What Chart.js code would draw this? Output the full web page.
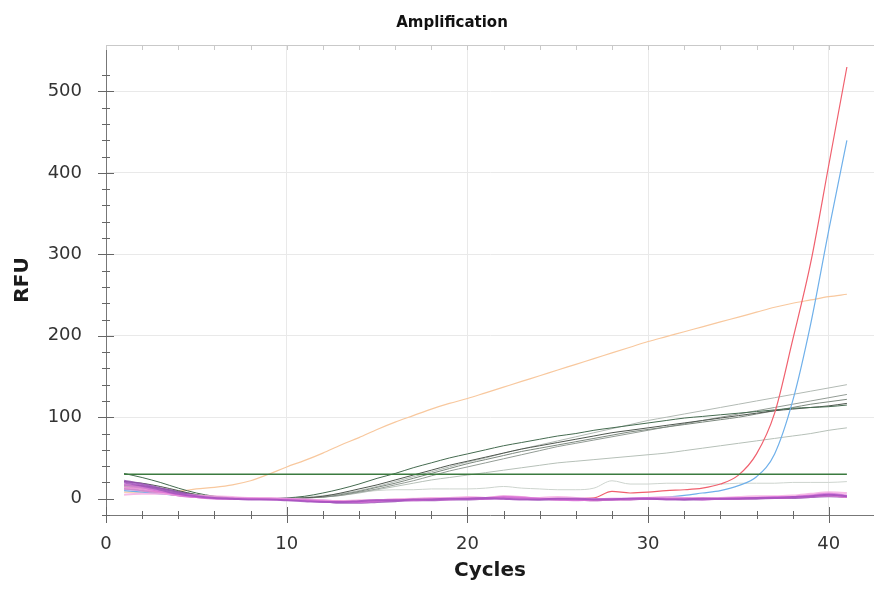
<!DOCTYPE html>
<html>
<head>
<meta charset="utf-8">
<title>Amplification</title>
<script src="https://cdn.jsdelivr.net/npm/chart.js@4.4.0/dist/chart.umd.min.js"></script>
<style>
  html, body { margin: 0; padding: 0; background: #fff; }
</style>
</head>
<body>
<canvas id="chart" width="874" height="590"></canvas>
<script>
// cycle numbers (x axis)
const cycles = [1, 2, 3, 4, 5, 6, 7, 8, 9, 10, 11, 12, 13, 14, 15, 16, 17, 18, 19, 20,
  21, 22, 23, 24, 25, 26, 27, 28, 29, 30, 31, 32, 33, 34, 35, 36, 37, 38, 39, 40, 41];

// RFU readings per well
const wellRed = [12, 10, 7, 4, 2, 1, 0, 0, -1, -1, -2, -3, -3, -3, -2, -1, -1, 0, 0, 0,
  1, 1, 0, 0, 0, 0, 1, 9, 7, 8, 10, 11, 13, 18, 29, 55, 105, 195, 290, 410, 530];
const wellBlue = [10, 8, 6, 4, 2, 1, 0, 0, -1, -1, -2, -3, -3, -3, -2, -2, -1, -1, 0, 0,
  0, 0, -1, -1, 0, 0, 0, 0, 0, 1, 2, 4, 7, 10, 16, 27, 55, 120, 215, 330, 440];
const wellOrange = [8, 8, 8, 9, 12, 14, 17, 22, 30, 39, 47, 56, 66, 75, 85, 94, 102, 110, 117, 123,
  130, 137, 144, 151, 158, 165, 172, 179, 186, 193, 199, 205, 211, 217, 223, 229, 235, 240, 244, 248, 251];

const grey1 = [31, 26, 20, 13, 7, 3, 1, 0, 0, 1, 3, 7, 12, 18, 25, 31, 38, 44, 50, 55,
  60, 65, 69, 73, 77, 80, 84, 87, 90, 93, 96, 99, 101, 103, 105, 107, 109, 111, 112, 113, 115];
const grey2 = [21, 19, 15, 10, 5, 2, 0, -1, -1, 0, 1, 3, 7, 12, 17, 23, 29, 35, 41, 46,
  51, 56, 61, 65, 69, 73, 77, 81, 84, 87, 90, 93, 96, 99, 102, 105, 108, 110, 112, 114, 117];
const grey3 = [17, 16, 13, 9, 5, 2, 1, 0, 0, 0, 1, 2, 5, 9, 14, 19, 25, 31, 37, 43,
  48, 53, 58, 62, 66, 70, 74, 78, 82, 85, 88, 91, 94, 97, 100, 104, 108, 112, 116, 119, 122];
const grey4 = [15, 14, 11, 7, 4, 2, 1, 0, 0, 0, 1, 3, 6, 10, 15, 21, 27, 33, 39, 45,
  50, 56, 61, 66, 71, 76, 81, 86, 91, 96, 100, 104, 108, 112, 116, 120, 124, 128, 132, 136, 140];
const grey5 = [16, 15, 12, 8, 4, 2, 1, 0, 0, 0, 1, 2, 4, 8, 12, 17, 22, 28, 34, 39,
  44, 49, 54, 59, 64, 68, 72, 76, 80, 84, 88, 92, 96, 100, 104, 108, 112, 116, 120, 124, 128];
const grey6 = [15, 13, 10, 6, 3, 1, 0, 0, 0, 0, 1, 2, 4, 7, 11, 15, 19, 23, 26, 29,
  32, 35, 38, 41, 44, 46, 48, 50, 52, 54, 56, 59, 62, 65, 68, 71, 74, 77, 80, 84, 87];
const grey7 = [12, 10, 7, 4, 2, 1, 0, 0, 0, 1, 2, 4, 6, 8, 10, 11, 11, 12, 12, 12,
  13, 15, 13, 12, 11, 11, 13, 22, 18, 18, 19, 19, 18, 18, 19, 19, 19, 20, 20, 20, 21];

const pink1 = [20, 16, 11, 6, 3, 1, 0, -1, -1, -2, -3, -4, -4, -3, -2, -2, -1, -1, 0, 0,
  1, 0, -1, -1, 0, 0, -1, -1, 0, 0, -1, -1, 0, 0, 0, 1, 1, 2, 3, 5, 3];
const pink2 = [17, 14, 9, 5, 2, 0, 0, 0, -1, -1, -2, -3, -4, -4, -3, -2, -2, -1, -1, 0,
  0, 2, 1, 0, -1, -2, -1, 0, 0, 1, 0, 0, -1, 0, 1, 1, 2, 2, 4, 6, 4];
const pink3 = [5, 6, 6, 5, 4, 3, 2, 1, 1, 0, -1, -2, -3, -2, -2, -1, 0, 1, 1, 2,
  1, 0, 0, 1, 2, 1, 0, -1, 0, 1, 2, 1, 0, 1, 2, 3, 3, 4, 6, 8, 7];
const pink4 = [14, 12, 8, 4, 2, 1, 0, 0, 0, -1, -2, -3, -3, -3, -2, -1, -1, 0, 0, 1,
  1, 3, 2, 0, -1, -1, -2, -1, -1, 0, 0, 1, 1, 0, 0, 1, 1, 2, 3, 4, 2];
const pink5 = [22, 18, 13, 8, 4, 2, 1, 0, 0, -1, -2, -3, -5, -5, -4, -3, -2, -2, -1, -1,
  0, 1, 0, -1, -1, -1, -2, -1, -1, 0, 0, -1, -1, 0, 0, 0, 1, 1, 2, 3, 2];
const pink6 = [12, 10, 7, 4, 2, 1, 1, 0, 0, 0, -1, -2, -3, -3, -2, -2, -1, -1, 0, 0,
  0, 1, 1, 0, 0, -1, -1, -1, 0, 0, 0, 0, 0, 0, 1, 1, 2, 2, 3, 4, 3];

const threshold = 30;

// axis ranges / tick labels
const xMin = 0, xMax = 42.5;
const yMin = -20, yMax = 557;
const xLabels = [0, 10, 20, 30, 40];
const yLabels = [0, 100, 200, 300, 400, 500];

const FONT = "'DejaVu Sans', 'Liberation Sans', Arial, sans-serif";

function toPoints(values) {
  return values.map((v, i) => ({ x: cycles[i], y: v }));
}

function line(values, color, width) {
  return {
    data: toPoints(values),
    borderColor: color,
    borderWidth: width || 1,
    pointRadius: 0,
    fill: false,
    cubicInterpolationMode: 'monotone'
  };
}

// draws the axis tick marks, top frame line and chart title
const frameTicks = {
  id: 'frameTicks',
  afterDraw(chart) {
    const ctx = chart.ctx;
    const area = chart.chartArea;
    const xs = chart.scales.x;
    const ys = chart.scales.y;
    ctx.save();
    ctx.lineWidth = 1;

    // top frame
    ctx.strokeStyle = '#c9c9c9';
    ctx.beginPath();
    ctx.moveTo(area.left, area.top + 0.5);
    ctx.lineTo(area.right, area.top + 0.5);
    xs.ticks.forEach(t => {
      if (t.value % 2 !== 0) return;
      const px = Math.round(xs.getPixelForValue(t.value)) + 0.5;
      ctx.moveTo(px, area.top);
      ctx.lineTo(px, area.top + 5);
    });
    ctx.stroke();

    // bottom axis ticks
    ctx.strokeStyle = '#666';
    ctx.beginPath();
    xs.ticks.forEach(t => {
      if (t.value % 2 !== 0) return;
      const px = Math.round(xs.getPixelForValue(t.value)) + 0.5;
      const len = t.value % 10 === 0 ? 8 : 4;
      ctx.moveTo(px, area.bottom - len);
      ctx.lineTo(px, area.bottom + len);
    });
    // left axis ticks
    ys.ticks.forEach(t => {
      if (t.value % 20 !== 0) return;
      const py = Math.round(ys.getPixelForValue(t.value)) + 0.5;
      const len = t.value % 100 === 0 ? 8 : 4;
      ctx.moveTo(area.left - len, py);
      ctx.lineTo(area.left + len, py);
    });
    ctx.stroke();

    // title
    ctx.fillStyle = '#111';
    ctx.font = 'bold 15px ' + FONT;
    ctx.textAlign = 'center';
    ctx.textBaseline = 'middle';
    ctx.fillText('Amplification', 452, 23);
    ctx.restore();
  }
};

const ctx = document.getElementById('chart').getContext('2d');
const chart = new Chart(ctx, {
  type: 'line',
  data: {
    datasets: [
      line(cycles.map(() => threshold), '#3b7a3f', 1.3),
      line(pink1, 'rgba(165, 80, 190, 0.85)', 2),
      line(pink2, 'rgba(215, 110, 215, 0.8)', 2),
      line(pink3, 'rgba(245, 170, 225, 0.8)', 2),
      line(pink4, 'rgba(230, 130, 210, 0.8)', 2),
      line(pink5, 'rgba(150, 80, 180, 0.85)', 2),
      line(pink6, 'rgba(200, 150, 230, 0.8)', 2),
      line(wellRed, '#f0606e', 1.2),
      line(wellBlue, '#6fb0ea', 1.2),
      line(grey1, '#456b50', 1),
      line(grey2, '#4f574f', 1),
      line(grey3, '#7c887e', 1),
      line(grey4, '#b2bab4', 1),
      line(grey5, '#939c95', 1),
      line(grey6, '#b6c0b8', 1),
      line(grey7, '#cdd4ce', 1),
      line(wellOrange, '#f8c89e', 1.2)
    ]
  },
  options: {
    responsive: false,
    animation: false,
    layout: { padding: { top: 45, right: 0, left: 0, bottom: 0 } },
    plugins: {
      legend: { display: false },
      tooltip: { enabled: false },
      title: { display: false }
    },
    scales: {
      x: {
        type: 'linear',
        min: xMin,
        max: xMax,
        afterFit: s => {
          s.height = 75;
          s.paddingLeft = 0;
          s.paddingRight = 0;
        },
        ticks: {
          stepSize: 2,
          autoSkip: false,
          maxRotation: 0,
          padding: 19,
          color: '#333',
          font: { family: FONT, size: 18 },
          callback: v => xLabels.includes(v) ? String(v) : ''
        },
        grid: {
          drawTicks: false,
          color: c => (c.tick && c.tick.value % 10 === 0 && c.tick.value > 0) ? '#e9e9e9' : 'rgba(0,0,0,0)'
        },
        border: { display: true, color: '#777', width: 1 },
        title: {
          display: true,
          text: 'Cycles',
          color: '#1a1a1a',
          font: { family: FONT, size: 20, weight: 'bold' },
          padding: { top: 0, bottom: 7 }
        }
      },
      y: {
        min: yMin,
        max: yMax,
        afterFit: s => { s.width = 106; },
        ticks: {
          stepSize: 20,
          autoSkip: false,
          padding: 24,
          color: '#333',
          font: { family: FONT, size: 18 },
          callback: v => yLabels.includes(v) ? String(v) : ''
        },
        grid: {
          drawTicks: false,
          color: c => (c.tick && c.tick.value % 100 === 0 && c.tick.value > 0) ? '#e9e9e9' : 'rgba(0,0,0,0)'
        },
        border: { display: true, color: '#777', width: 1 },
        title: {
          display: true,
          text: 'RFU',
          color: '#1a1a1a',
          font: { family: FONT, size: 20, weight: 'bold' },
          padding: { top: 11, bottom: 0 }
        }
      }
    }
  },
  plugins: [frameTicks]
});
</script>
</body>
</html>
